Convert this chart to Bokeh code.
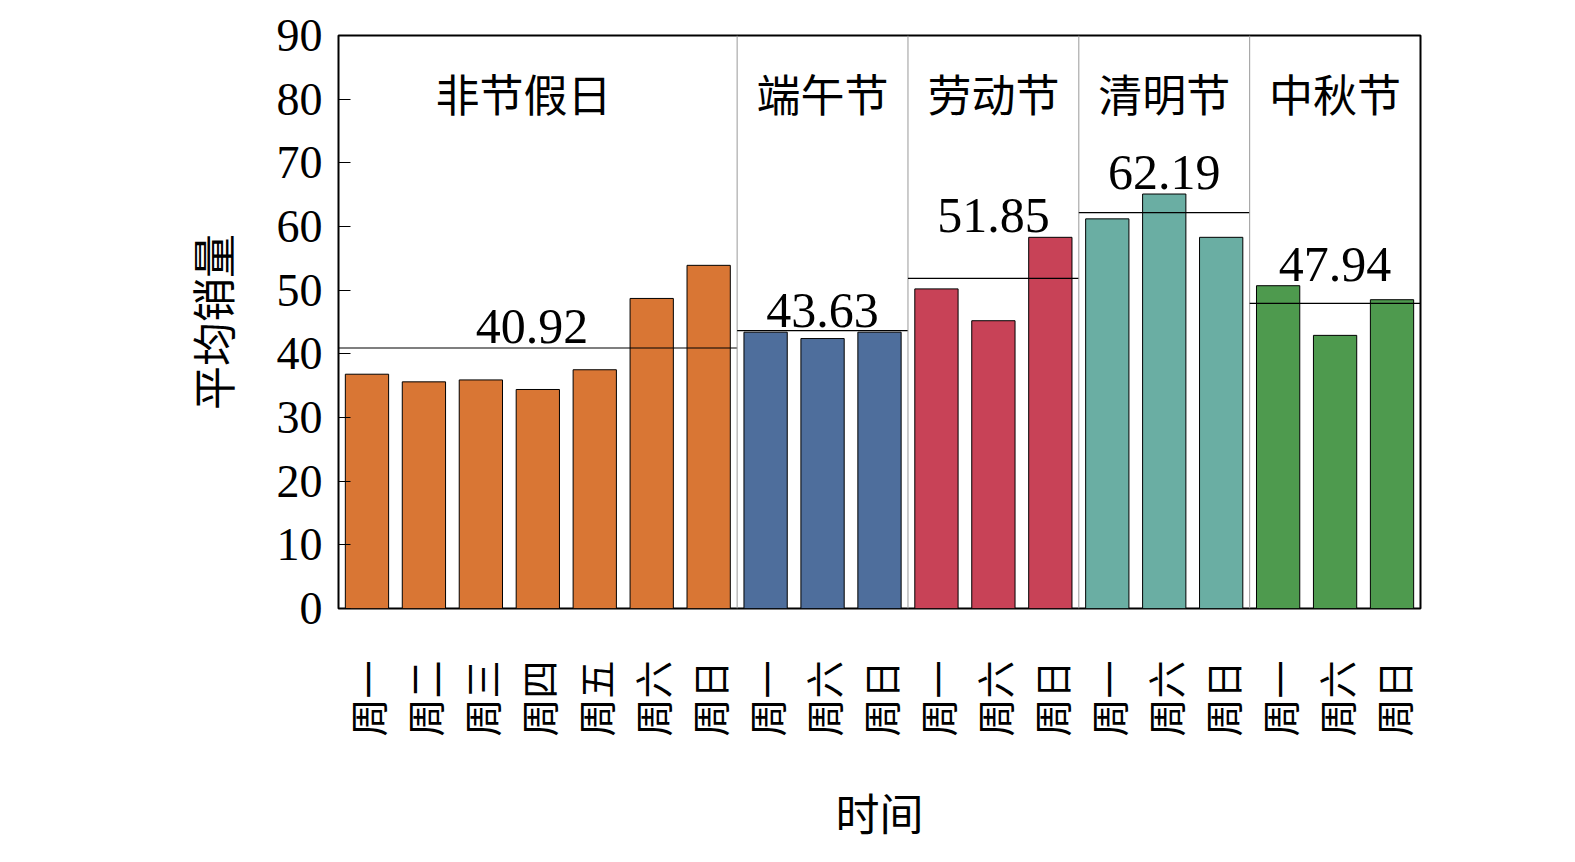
from bokeh.plotting import figure
from bokeh.models import FixedTicker, ColumnDataSource, Range1d
from bokeh.core.properties import value
from bokeh.embed import file_html
from bokeh.resources import INLINE

labels = ["周一", "周二", "周三", "周四", "周五", "周六", "周日",
          "周一", "周六", "周日", "周一", "周六", "周日",
          "周一", "周六", "周日", "周一", "周六", "周日"]
sales = [36.8, 35.6, 35.9, 34.4, 37.5, 48.7, 53.9,
         43.4, 42.4, 43.4,
         50.2, 45.2, 58.3,
         61.2, 65.1, 58.3,
         50.7, 42.9, 48.5]
groups = ["非节假日", "端午节", "劳动节", "清明节", "中秋节"]
group_sizes = [7, 3, 3, 3, 3]
group_means = [40.92, 43.63, 51.85, 62.19, 47.94]
group_colors = ["#D97634", "#4E6E9C", "#C84257", "#6AAEA3", "#4E9A4E"]

CJK = "Noto Sans CJK SC"
SERIF = "Liberation Serif"

colors = []
for c, n in zip(group_colors, group_sizes):
    colors += [c] * n
xs = [i + 0.5 for i in range(len(sales))]
src = ColumnDataSource(dict(x=xs, top=sales, color=colors))

p = figure(width=1559, height=846, output_backend="svg", toolbar_location=None,
           x_range=Range1d(0, len(sales)), y_range=Range1d(0, 90),
           min_border_left=338, min_border_right=139, min_border_top=35, min_border_bottom=231)
p.vbar(x="x", top="top", width=0.76, fill_color="color", line_color="black", line_width=1, source=src)

starts = [0]
for n in group_sizes:
    starts.append(starts[-1] + n)
for i, g in enumerate(groups):
    x0, x1 = starts[i], starts[i + 1]
    if i > 0:
        p.segment(x0=[x0], y0=[0], x1=[x0], y1=[90], line_color="#999999", line_width=1)
    p.segment(x0=[x0], y0=[group_means[i]], x1=[x1], y1=[group_means[i]], line_color="black", line_width=1.2)
    tx = (x0 + x1) / 2 - (0.25 if i == 0 else 0)
    p.text(x=[tx], y=[81], text=[g], text_font=value(CJK), text_font_size="44px",
           text_align="center", text_baseline="middle")
    if i == 0:
        ly = group_means[i] + 0.8
    else:
        ly = max(sales[x0:x1]) + 0.8
    p.text(x=[(x0 + x1) / 2 - (0.1 if i == 0 else 0)], y=[ly], text=[f"{group_means[i]:.2f}"],
           text_font=value(SERIF), text_font_size="50px", text_align="center", text_baseline="bottom")

p.grid.visible = False
p.outline_line_color = "black"
p.outline_line_width = 2

p.xaxis.ticker = FixedTicker(ticks=xs)
p.xaxis.major_label_overrides = {x: l for x, l in zip(xs, labels)}
p.xaxis.major_label_orientation = 1.5708
p.xaxis.major_tick_line_color = None
p.xaxis.axis_line_color = None
p.xaxis.major_label_text_font = CJK
p.xaxis.major_label_text_font_size = "38px"
p.xaxis.major_label_text_color = "black"
p.xaxis.major_label_standoff = 46
p.xaxis.axis_label = "时间"
p.xaxis.axis_label_text_font = CJK
p.xaxis.axis_label_text_font_size = "44px"
p.xaxis.axis_label_text_font_style = "normal"
p.xaxis.axis_label_text_color = "black"
p.xaxis.axis_label_standoff = 40

p.yaxis.ticker = FixedTicker(ticks=list(range(0, 91, 10)))
p.yaxis.major_tick_in = 12
p.yaxis.major_tick_out = 0
p.yaxis.minor_tick_line_color = None
p.yaxis.axis_line_color = None
p.yaxis.major_label_text_font = SERIF
p.yaxis.major_label_text_font_size = "46px"
p.yaxis.major_label_text_color = "black"
p.yaxis.major_label_standoff = 16
p.yaxis.axis_label = "平均销量"
p.yaxis.axis_label_text_font = CJK
p.yaxis.axis_label_text_font_size = "44px"
p.yaxis.axis_label_text_font_style = "normal"
p.yaxis.axis_label_text_color = "black"
p.yaxis.axis_label_standoff = 30

open("out.html", "w").write(file_html(p, INLINE))
